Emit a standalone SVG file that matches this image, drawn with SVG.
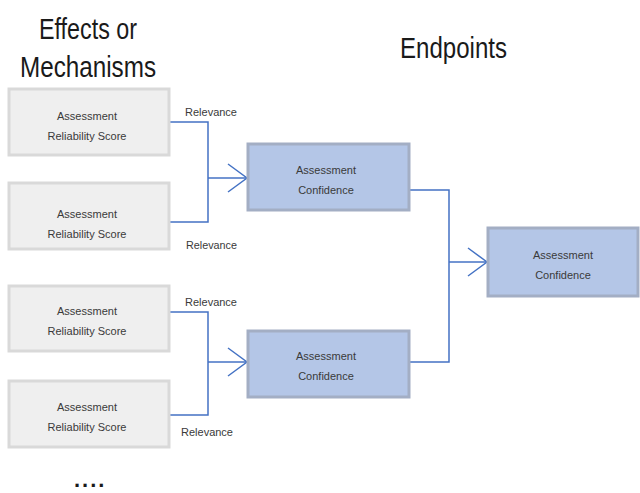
<svg xmlns="http://www.w3.org/2000/svg" width="640" height="493" viewBox="0 0 640 493">
  <style>
    .title { font-family: "Liberation Sans Narrow", "Liberation Sans", Arial, sans-serif; font-size: 29px; fill: #1a1a1a; }
    .lbl { font-family: "Liberation Sans Narrow", "Liberation Sans", Arial, sans-serif; font-size: 11px; fill: #3a3a3a; text-anchor: middle; }
    .rel { font-family: "Liberation Sans Narrow", "Liberation Sans", Arial, sans-serif; font-size: 11px; fill: #3a3a3a; }
    .score rect { fill: #efefef; stroke: #d9d9d9; stroke-width: 3; }
    .conf rect { fill: #b4c6e7; stroke: #a3aec4; stroke-width: 3; }
    .wire { fill: none; stroke: #4472c4; stroke-width: 1.5; }
  </style>
  <defs>
    <marker id="chev" markerUnits="userSpaceOnUse" markerWidth="24" markerHeight="34" refX="20" refY="15" orient="auto">
      <path d="M1,1 L20,15 L1,29" fill="none" stroke="#4472c4" stroke-width="1.5"/>
    </marker>
  </defs>

  <rect width="640" height="493" fill="#ffffff"/>

  <!-- column headings -->
  <text class="title" x="39" y="39" textLength="98" lengthAdjust="spacingAndGlyphs">Effects or</text>
  <text class="title" x="20" y="77" textLength="136" lengthAdjust="spacingAndGlyphs">Mechanisms</text>
  <text class="title" x="400" y="58" textLength="107" lengthAdjust="spacingAndGlyphs">Endpoints</text>

  <!-- connectors -->
  <g id="connectors">
    <path class="wire" d="M169,122 H208 V222 H169"/>
    <path class="wire" d="M208,178 H247" marker-end="url(#chev)"/>
    <path class="wire" d="M169,312 H208 V415 H169"/>
    <path class="wire" d="M208,362 H247" marker-end="url(#chev)"/>
    <path class="wire" d="M409,190 H449 V362 H409"/>
    <path class="wire" d="M449,262 H487" marker-end="url(#chev)"/>
    <text class="rel" x="185" y="116" textLength="52" lengthAdjust="spacingAndGlyphs">Relevance</text>
    <text class="rel" x="186" y="249" textLength="51" lengthAdjust="spacingAndGlyphs">Relevance</text>
    <text class="rel" x="185" y="306" textLength="52" lengthAdjust="spacingAndGlyphs">Relevance</text>
    <text class="rel" x="181" y="436" textLength="52" lengthAdjust="spacingAndGlyphs">Relevance</text>
  </g>

  <!-- reliability score nodes -->
  <g id="score1" class="score">
    <rect x="9" y="89" width="160" height="66"/>
    <text class="lbl" x="87" y="120">Assessment</text>
    <text class="lbl" x="87" y="140">Reliability  Score</text>
  </g>
  <g id="score2" class="score">
    <rect x="9" y="183" width="160" height="66"/>
    <text class="lbl" x="87" y="218">Assessment</text>
    <text class="lbl" x="87" y="238">Reliability  Score</text>
  </g>
  <g id="score3" class="score">
    <rect x="9" y="286" width="160" height="65"/>
    <text class="lbl" x="87" y="315">Assessment</text>
    <text class="lbl" x="87" y="335">Reliability  Score</text>
  </g>
  <g id="score4" class="score">
    <rect x="9" y="381" width="160" height="66"/>
    <text class="lbl" x="87" y="411">Assessment</text>
    <text class="lbl" x="87" y="431">Reliability  Score</text>
  </g>

  <!-- confidence nodes -->
  <g id="conf1" class="conf">
    <rect x="248" y="144" width="161" height="66"/>
    <text class="lbl" x="326" y="174">Assessment</text>
    <text class="lbl" x="326" y="194">Confidence</text>
  </g>
  <g id="conf2" class="conf">
    <rect x="248" y="331" width="161" height="66"/>
    <text class="lbl" x="326" y="360">Assessment</text>
    <text class="lbl" x="326" y="380">Confidence</text>
  </g>
  <g id="conf3" class="conf">
    <rect x="488" y="228" width="150" height="68"/>
    <text class="lbl" x="563" y="259">Assessment</text>
    <text class="lbl" x="563" y="279">Confidence</text>
  </g>

  <!-- continuation mark -->
  <text x="74" y="487" font-family="Liberation Sans, Arial, sans-serif" font-size="22" font-weight="bold" fill="#1a1a1a" letter-spacing="2">....</text>
</svg>
